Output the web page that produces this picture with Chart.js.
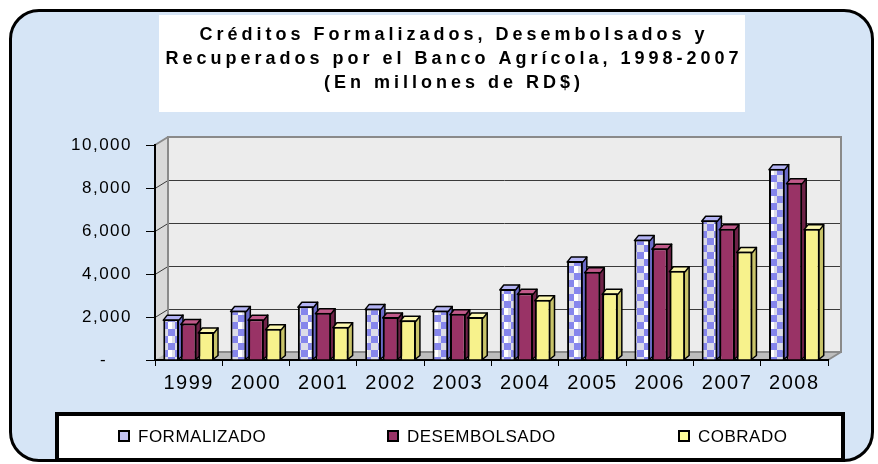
<!DOCTYPE html>
<html>
<head>
<meta charset="utf-8">
<script src="https://cdn.jsdelivr.net/npm/chart.js@4.4.1/dist/chart.umd.min.js"></script>
<style>
html, body { margin: 0; padding: 0; background: #fff; }
#wrap { position: relative; width: 878px; height: 464px; overflow: hidden; }
#frame { position: absolute; left: 9px; top: 9px; width: 865px; height: 453px; box-sizing: border-box;
         border: 3px solid #000; border-radius: 30px; background: #d6e5f6; }
#chart { position: absolute; left: 0; top: 0; }
</style>
</head>
<body>
<div id="wrap"><div id="frame"></div><canvas id="chart" width="878" height="464"></canvas></div>
<script>
// data
const years = ['1999', '2000', '2001', '2002', '2003', '2004', '2005', '2006', '2007', '2008'];
const formalizado = [1900, 2300, 2500, 2400, 2300, 3300, 4600, 5600, 6500, 8900];
const desembolsado = [1700, 1900, 2200, 2000, 2150, 3100, 4100, 5200, 6100, 8250];
const cobrado = [1300, 1450, 1550, 1850, 2000, 2800, 3100, 4150, 5050, 6100];
const seriesNames = ['FORMALIZADO', 'DESEMBOLSADO', 'COBRADO'];
const yTicks = [0, 2000, 4000, 6000, 8000, 10000];
const titleLines = [
    'Créditos Formalizados, Desembolsados y',
    'Recuperados por el Banco Agrícola, 1998-2007',
    '(En millones de RD$)'
];

const FONT = "'Liberation Sans', Arial, sans-serif";
const DX = 13, DY = 8;   // wall depth
const BX = 4, BY = 4;    // bar depth
const faces = [
    { top: '#b4b4f4', side: '#6a6ac8', legend: '#c4c4f4' },
    { top: '#c05a8a', side: '#6e2248', legend: '#993366' },
    { top: '#fbf7b0', side: '#c9c46a', legend: '#ffff99' }
];
const legendX = [119, 388, 679];

function checker() {
    let c = document.createElement('canvas');
    c.width = 14; c.height = 14;
    let g = c.getContext('2d');
    g.fillStyle = '#dcdce8'; g.fillRect(0, 0, 14, 14);
    g.fillStyle = '#8686ec';
    g.fillRect(7, 0, 7, 7);
    g.fillRect(0, 7, 7, 7);
    g.fillStyle = '#ffffff';
    g.fillRect(0, 0, 4, 7);
    return g.createPattern(c, 'repeat');
}

function poly(ctx, pts) {
    ctx.beginPath();
    ctx.moveTo(pts[0][0], pts[0][1]);
    for (let i = 1; i < pts.length; i++) ctx.lineTo(pts[i][0], pts[i][1]);
    ctx.closePath();
}

const decor = {
    id: 'decor',
    beforeUpdate(chart) {
        chart.ctx.letterSpacing = '1.5px';
    },
    beforeDraw(chart) {
        const ctx = chart.ctx, a = chart.chartArea, ys = chart.scales.y;
        ctx.letterSpacing = '1.5px';
        ctx.save();
        // title box
        ctx.fillStyle = '#fff';
        ctx.fillRect(159, 15, 586, 97);
        // side wall, back wall, floor
        ctx.fillStyle = '#d9d9d9';
        poly(ctx, [[a.left, a.top], [a.left + DX, a.top - DY], [a.left + DX, a.bottom - DY], [a.left, a.bottom]]);
        ctx.fill();
        ctx.fillStyle = '#ececec';
        ctx.fillRect(a.left + DX, a.top - DY, a.right - a.left, a.bottom - a.top);
        ctx.fillStyle = '#bdbdbd';
        poly(ctx, [[a.left, a.bottom], [a.left + DX, a.bottom - DY], [a.right + DX, a.bottom - DY], [a.right, a.bottom]]);
        ctx.fill();
        // grid lines on the walls
        ctx.strokeStyle = '#3a3a3a';
        ctx.lineWidth = 1;
        ys.ticks.forEach(t => {
            if (t.value === 0 || t.value === 10000) return;
            const py = Math.round(ys.getPixelForValue(t.value)) + 0.5;
            ctx.beginPath();
            ctx.moveTo(a.left, py);
            ctx.lineTo(a.left + DX, py - DY);
            ctx.lineTo(a.right + DX, py - DY);
            ctx.stroke();
        });
        // wall outlines
        ctx.strokeStyle = '#8a8a8a';
        ctx.lineWidth = 2;
        ctx.strokeRect(a.left + DX, a.top - DY, a.right - a.left, a.bottom - a.top);
        ctx.beginPath();
        ctx.moveTo(a.left, a.top);
        ctx.lineTo(a.left + DX, a.top - DY);
        ctx.moveTo(a.right, a.bottom);
        ctx.lineTo(a.right + DX, a.bottom - DY);
        ctx.stroke();
        ctx.restore();
    },
    beforeDatasetsDraw(chart) {
        const ctx = chart.ctx;
        ctx.save();
        ctx.lineWidth = 1.5;
        ctx.strokeStyle = '#000';
        ctx.lineJoin = 'round';
        chart.data.datasets.forEach((ds, i) => {
            chart.getDatasetMeta(i).data.forEach(bar => {
                const l = bar.x - bar.width / 2, r = bar.x + bar.width / 2, t = bar.y, b = bar.base;
                ctx.fillStyle = faces[i].side;
                poly(ctx, [[r - 1, t], [r + BX, t - BY], [r + BX, b - BY], [r - 1, b]]);
                ctx.fill(); ctx.stroke();
                ctx.fillStyle = faces[i].top;
                poly(ctx, [[l, t + 1], [l + BX, t - BY], [r + BX, t - BY], [r, t + 1]]);
                ctx.fill(); ctx.stroke();
            });
        });
        ctx.restore();
    },
    afterDraw(chart) {
        const ctx = chart.ctx;
        ctx.save();
        // title
        ctx.fillStyle = '#000';
        ctx.font = 'bold 18px ' + FONT;
        ctx.textAlign = 'left';
        ctx.textBaseline = 'alphabetic';
        ctx.letterSpacing = '0px';
        const plain = ctx.measureText(titleLines[1]).width;
        const sp = (577 - plain) / titleLines[1].length;
        ctx.letterSpacing = sp + 'px';
        titleLines.forEach((line, i) => {
            const w = ctx.measureText(line).width - sp;
            ctx.fillText(line, 452 - w / 2, 40 + i * 24);
        });
        // legend
        ctx.letterSpacing = '0px';
        ctx.fillStyle = '#fff';
        ctx.fillRect(57, 414, 786, 46);
        ctx.strokeStyle = '#000';
        ctx.lineWidth = 4;
        ctx.strokeRect(57, 414, 786, 46);
        ctx.font = '17px ' + FONT;
        ctx.letterSpacing = '0.5px';
        ctx.textBaseline = 'middle';
        chart.data.datasets.forEach((ds, i) => {
            const x = legendX[i];
            ctx.fillStyle = faces[i].legend;
            ctx.fillRect(x, 431, 10, 10);
            ctx.lineWidth = 2;
            ctx.strokeRect(x, 431, 10, 10);
            ctx.fillStyle = '#000';
            ctx.fillText(ds.label, x + 19, 437);
        });
        ctx.restore();
    }
};

const ctx = document.getElementById('chart').getContext('2d');

new Chart(ctx, {
    type: 'bar',
    data: {
        labels: years,
        datasets: [
            { label: seriesNames[0], data: formalizado, backgroundColor: checker() },
            { label: seriesNames[1], data: desembolsado, backgroundColor: '#993366' },
            { label: seriesNames[2], data: cobrado, backgroundColor: '#f7f28c' }
        ]
    },
    options: {
        responsive: false,
        animation: false,
        events: [],
        layout: { padding: { top: 145, right: 50, bottom: 0, left: 0 } },
        datasets: {
            bar: {
                borderColor: '#000',
                borderWidth: 2,
                categoryPercentage: 0.78,
                barPercentage: 0.9
            }
        },
        scales: {
            x: {
                afterFit: s => { s.height = 104; },
                grid: { drawOnChartArea: false, drawTicks: true, tickLength: 6, color: '#000', offset: true },
                border: { display: true, color: '#000', width: 2 },
                ticks: {
                    color: '#000',
                    font: { family: FONT, size: 20 },
                    padding: 5,
                    maxRotation: 0,
                    autoSkip: false
                }
            },
            y: {
                min: 0,
                max: 10000,
                afterFit: s => { s.width = 155; },
                afterBuildTicks: s => { s.ticks = yTicks.map(v => ({ value: v })); },
                grid: { drawOnChartArea: false, drawTicks: true, tickLength: 9, color: '#000' },
                border: { display: true, color: '#000', width: 2 },
                ticks: {
                    color: '#000',
                    font: { family: FONT, size: 17 },
                    padding: 14,
                    callback: v => v === 0 ? '-    ' : v.toLocaleString('en-US')
                }
            }
        },
        plugins: {
            legend: { display: false },
            title: { display: false },
            tooltip: { enabled: false }
        }
    },
    plugins: [decor]
});
</script>
</body>
</html>
